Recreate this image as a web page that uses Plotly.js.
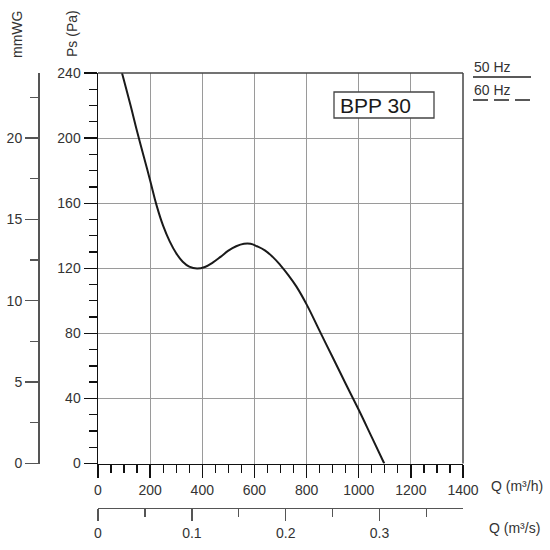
<!DOCTYPE html>
<html>
<head>
<meta charset="utf-8">
<script src="https://cdn.plot.ly/plotly-3.0.1.min.js"></script>
<style>html,body{margin:0;padding:0;background:#fff}#chart{width:550px;height:550px}</style>
</head>
<body>
<div id="chart"></div>
<script>
// Data (Q in m3/h, Ps in Pa)
var flowQ = [92,125,150,175,200,225,250,275,300,325,350,380,410,440,470,500,530,560,585,610,640,670,700,730,760,800,850,900,950,1000,1050,1098];
var pressurePs = [240,220,204,189,174,158.5,146,136.5,129.2,124,121,119.8,120.8,123.5,127,130.8,133.5,135,135,133.5,131,127,121.8,115.8,109,97.8,81.5,65.3,49,33,16.2,0];
var modelName = "BPP 30";
var legendLabels = ["50 Hz", "60 Hz"];
var qhRange = [0, 1400];
var psRange = [0, 240];
var mmwgRange = [0, 24];
var qsRange = [0, 1400/3600];

var W = 550, H = 550;
function px(x){ return x / W; }
function py(y){ return (H - y) / H; }

var tickFont = {family: "Liberation Sans, Arial, sans-serif", size: 14, color: "#333"};
var axisDark = "#111", axisGray = "#555", gridCol = "#9a9a9a";

var traces = [
  {x: flowQ, y: pressurePs, type: "scatter", mode: "lines",
   line: {shape: "spline", smoothing: 1.2, color: "#1a1a1a", width: 2}, hoverinfo: "none", showlegend: false},
  {x: [], y: [], xaxis: "x2", yaxis: "y2", type: "scatter", mode: "lines", showlegend: false, hoverinfo: "none"}
];

var layout = {
  width: W, height: H,
  margin: {l: 0, r: 0, t: 0, b: 0},
  paper_bgcolor: "#fff", plot_bgcolor: "#fff",
  showlegend: false,
  xaxis: {
    domain: [px(98), px(463)], range: qhRange, anchor: "y",
    tickmode: "linear", tick0: 0, dtick: 200,
    ticks: "outside", ticklen: 13, tickwidth: 1.3, tickcolor: axisDark,
    minor: {dtick: 50, ticklen: 8, tickwidth: 1.3, tickcolor: axisDark, showgrid: false},
    showline: true, linecolor: axisDark, linewidth: 1.5,
    showgrid: true, gridcolor: gridCol, gridwidth: 1,
    zeroline: false, tickfont: tickFont, fixedrange: true
  },
  yaxis: {
    domain: [py(463.5), py(73)], range: psRange, anchor: "x",
    tickmode: "linear", tick0: 0, dtick: 40,
    ticks: "outside", ticklen: 13, tickwidth: 1.3, tickcolor: axisDark,
    minor: {dtick: 10, ticklen: 8, tickwidth: 1.3, tickcolor: axisDark, showgrid: false},
    showline: true, linecolor: axisDark, linewidth: 1.5,
    showgrid: true, gridcolor: gridCol, gridwidth: 1,
    zeroline: false, tickfont: tickFont, fixedrange: true
  },
  yaxis2: {
    overlaying: "y", anchor: "free", position: px(38), side: "left",
    range: mmwgRange, tickmode: "linear", tick0: 0, dtick: 5,
    ticks: "outside", ticklen: 13, tickwidth: 1.3, tickcolor: axisGray,
    minor: {dtick: 2.5, ticklen: 8, tickwidth: 1.3, tickcolor: axisGray, showgrid: false},
    showline: true, linecolor: axisGray, linewidth: 1.5,
    showgrid: false, zeroline: false, tickfont: tickFont, fixedrange: true
  },
  xaxis2: {
    overlaying: "x", anchor: "free", position: py(507.7), side: "bottom",
    range: qsRange, tickmode: "linear", tick0: 0, dtick: 0.1,
    ticks: "outside", ticklen: 12, tickwidth: 1.3, tickcolor: axisGray,
    minor: {dtick: 0.05, ticklen: 8, tickwidth: 1.3, tickcolor: axisGray, showgrid: false},
    showline: true, linecolor: axisGray, linewidth: 1.5,
    showgrid: false, zeroline: false, tickfont: tickFont, fixedrange: true
  },
  shapes: [
    {type: "line", xref: "paper", yref: "paper", x0: px(98), x1: px(463), y0: py(73), y1: py(73), line: {color: "#444", width: 1.5}},
    {type: "line", xref: "paper", yref: "paper", x0: px(463), x1: px(463), y0: py(73), y1: py(463.5), line: {color: "#444", width: 1.5}},
    {type: "rect", xref: "paper", yref: "paper", x0: px(334), x1: px(434), y0: py(118), y1: py(92),
     fillcolor: "#fff", line: {color: "#444", width: 1.3}, layer: "above"},
    {type: "line", xref: "paper", yref: "paper", x0: px(473), x1: px(531), y0: py(77), y1: py(77), line: {color: "#222", width: 1.3}},
    {type: "line", xref: "paper", yref: "paper", x0: px(473), x1: px(531), y0: py(100), y1: py(100), line: {color: "#222", width: 1.3, dash: "15px,6px"}}
  ],
  annotations: [
    {text: "mmWG", xref: "paper", yref: "paper", x: px(17), y: py(35), textangle: -90, showarrow: false,
     font: {family: "Liberation Sans, Arial, sans-serif", size: 14, color: "#333"}, xanchor: "center", yanchor: "middle"},
    {text: "Ps (Pa)", xref: "paper", yref: "paper", x: px(72), y: py(34), textangle: -90, showarrow: false,
     font: {family: "Liberation Sans, Arial, sans-serif", size: 14, color: "#333"}, xanchor: "center", yanchor: "middle"},
    {text: "Q (m³/h)", xref: "paper", yref: "paper", x: px(489), y: py(486), showarrow: false,
     font: tickFont, xanchor: "left", yanchor: "middle"},
    {text: "Q (m³/s)", xref: "paper", yref: "paper", x: px(487), y: py(528), showarrow: false,
     font: tickFont, xanchor: "left", yanchor: "middle"},
    {text: modelName, xref: "paper", yref: "paper", x: px(338), y: py(105), showarrow: false,
     font: {family: "Liberation Sans, Arial, sans-serif", size: 21, color: "#1a1a1a"}, xanchor: "left", yanchor: "middle"},
    {text: legendLabels[0], xref: "paper", yref: "paper", x: px(472), y: py(67), showarrow: false,
     font: tickFont, xanchor: "left", yanchor: "middle"},
    {text: legendLabels[1], xref: "paper", yref: "paper", x: px(472), y: py(90), showarrow: false,
     font: tickFont, xanchor: "left", yanchor: "middle"}
  ]
};

Plotly.newPlot("chart", traces, layout, {staticPlot: true, displayModeBar: false});
</script>
</body>
</html>
